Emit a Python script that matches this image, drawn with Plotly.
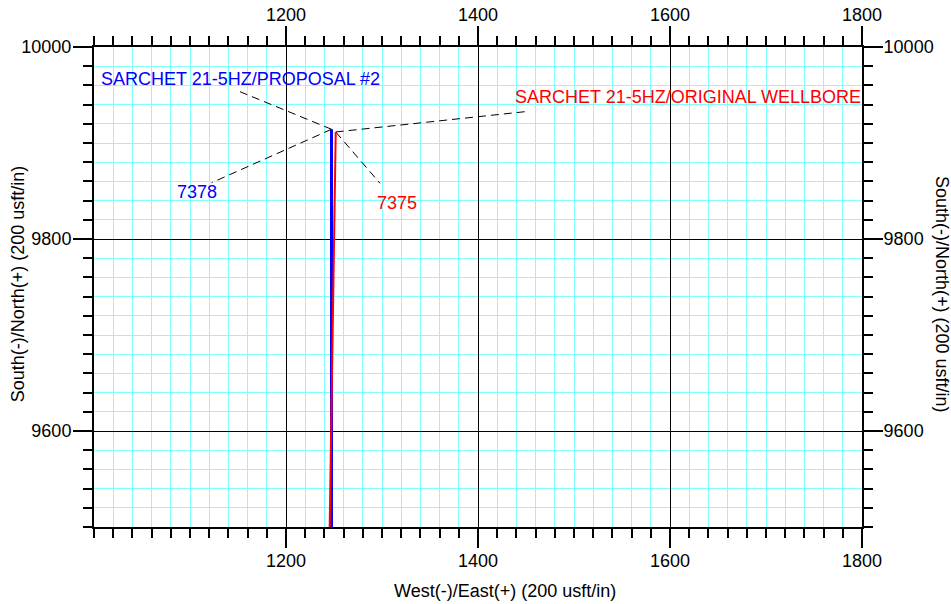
import plotly.graph_objects as go

# ---- data ----
x_range = [1000, 1800]
y_range = [9500, 10000]
x_tickvals = [1200, 1400, 1600, 1800]
y_tickvals = [9600, 9800, 10000]

proposal_east = [1247.4, 1247.4]
proposal_north = [9500, 9914.3]
original_east = [1245.5, 1251.8]
original_north = [9500, 9911.5]

proposal_name = "SARCHET 21-5HZ/PROPOSAL #2"
original_name = "SARCHET 21-5HZ/ORIGINAL WELLBORE"
proposal_md = "7378"
original_md = "7375"

# ---- layout geometry (pixels) ----
W, H = 951, 604
L, R, T, B = 94, 862, 47, 527


def px2x(p):
    return x_range[0] + (p - L) / (R - L) * (x_range[1] - x_range[0])


def px2y(p):
    return y_range[1] - (p - T) / (B - T) * (y_range[1] - y_range[0])


FONT = "Liberation Sans, Arial, sans-serif"
BLUE = "#0000ff"
RED = "#ff0000"
CYAN = "#80ffff"

fig = go.Figure()

# leader lines (from well end to label anchor)
p_end = (proposal_east[-1], proposal_north[-1])
o_end = (original_east[-1], original_north[-1])
leaders = [
    (p_end, (px2x(240), px2y(91.7))),
    (p_end, (px2x(211.7), px2y(182.7))),
    (o_end, (px2x(528.5), px2y(111.3))),
    (o_end, (px2x(380), px2y(183.3))),
]
for a, b in leaders:
    fig.add_trace(go.Scatter(
        x=[a[0], b[0]], y=[a[1], b[1]], mode="lines",
        line=dict(color="black", width=1, dash="8px,5px"),
        hoverinfo="skip", showlegend=False))

fig.add_trace(go.Scatter(x=proposal_east, y=proposal_north, mode="lines",
                         line=dict(color=BLUE, width=3), name=proposal_name,
                         showlegend=False))
fig.add_trace(go.Scatter(x=original_east, y=original_north, mode="lines",
                         line=dict(color=RED, width=2), name=original_name,
                         showlegend=False))

# invisible anchor trace so the top/right axes are drawn
fig.add_trace(go.Scatter(x=x_range, y=y_range, xaxis="x2", yaxis="y2",
                         mode="markers", marker=dict(opacity=0),
                         hoverinfo="skip", showlegend=False))

tickfont = dict(family=FONT, size=18, color="black")

common_x = dict(range=x_range, tickmode="array", tickvals=x_tickvals,
                tickformat="d",
                ticks="outside", ticklen=19, tickwidth=2, tickcolor="black",
                showline=True, linewidth=2, linecolor="black",
                tickfont=tickfont, zeroline=False, automargin=False,
                fixedrange=True)
common_y = dict(range=y_range, tickmode="array", tickvals=y_tickvals,
                tickformat="d",
                ticks="outside", ticklen=19, tickwidth=2, tickcolor="black",
                showline=True, linewidth=2, linecolor="black",
                tickfont=tickfont, zeroline=False, automargin=False,
                fixedrange=True)

minor_x = dict(tickmode="linear", tick0=x_range[0], dtick=20, ticks="outside",
               ticklen=9, tickwidth=2, tickcolor="black")
minor_y = dict(tickmode="linear", tick0=y_range[0], dtick=20, ticks="outside",
               ticklen=9, tickwidth=2, tickcolor="black")

fig.update_layout(
    template="none",
    width=W, height=H,
    margin=dict(l=L, r=W - R, t=T, b=H - B, pad=0),
    paper_bgcolor="white", plot_bgcolor="white",
    font=dict(family=FONT, size=18, color="black"),
    xaxis=dict(**common_x, side="bottom", showgrid=True, gridcolor="black",
               gridwidth=1, ticklabelstandoff=-3,
               minor=dict(**minor_x, showgrid=True, gridcolor=CYAN, gridwidth=1)),
    yaxis=dict(**common_y, side="left", showgrid=True, gridcolor="black",
               gridwidth=1, ticklabelstandoff=-2,
               minor=dict(**minor_y, showgrid=True, gridcolor=CYAN, gridwidth=1)),
    xaxis2=dict(**common_x, side="top", overlaying="x", anchor="y",
                showgrid=False, ticklabelstandoff=-2,
                minor=dict(**minor_x, showgrid=False)),
    yaxis2=dict(**common_y, side="right", overlaying="y", anchor="x",
                showgrid=False, ticklabelstandoff=-3,
                minor=dict(**minor_y, showgrid=False)),
    showlegend=False,
)

annos = [
    dict(text=proposal_name, x=px2x(99.5), y=px2y(79), xanchor="left",
         font=dict(color=BLUE, size=18, family=FONT)),
    dict(text=proposal_md, x=px2x(197), y=px2y(191.7), xanchor="center",
         font=dict(color=BLUE, size=18, family=FONT)),
    dict(text=original_name, x=px2x(514), y=px2y(96.7), xanchor="left",
         font=dict(color=RED, size=18, family=FONT)),
    dict(text=original_md, x=px2x(397), y=px2y(203), xanchor="center",
         font=dict(color=RED, size=18, family=FONT)),
]
for a in annos:
    fig.add_annotation(xref="x", yref="y", yanchor="middle", showarrow=False,
                       borderpad=0, **a)

# axis titles
fig.add_annotation(text="West(-)/East(+) (200 usft/in)", xref="paper", yref="paper",
                   x=(505 - L) / (R - L), y=-(591 - B) / (B - T),
                   xanchor="center", yanchor="middle", showarrow=False,
                   font=dict(size=18, family=FONT, color="black"))
fig.add_annotation(text="South(-)/North(+) (200 usft/in)", xref="paper", yref="paper",
                   x=-(L - 18.3) / (R - L), y=(B - 284) / (B - T), textangle=-90,
                   xanchor="center", yanchor="middle", showarrow=False,
                   font=dict(size=18, family=FONT, color="black"))
fig.add_annotation(text="South(-)/North(+) (200 usft/in)", xref="paper", yref="paper",
                   x=1 + (942 - R) / (R - L), y=(B - 294) / (B - T), textangle=90,
                   xanchor="center", yanchor="middle", showarrow=False,
                   font=dict(size=18, family=FONT, color="black"))

fig.write_html("out.html", config={"displayModeBar": False},
               post_script="document.body.style.margin='0';document.body.style.overflow='hidden';")
